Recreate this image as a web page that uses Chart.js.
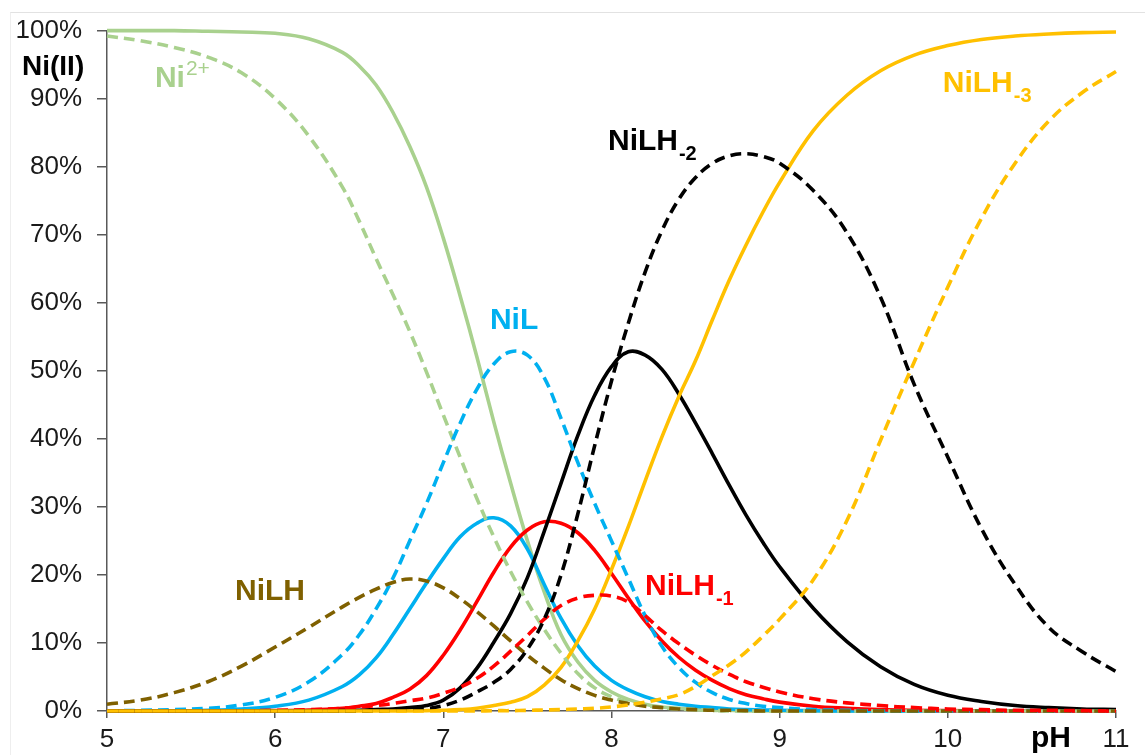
<!DOCTYPE html>
<html>
<head>
<meta charset="utf-8">
<title>Ni(II) speciation vs pH</title>
<script src="https://cdn.jsdelivr.net/npm/chart.js@4.4.1/dist/chart.umd.min.js"></script>
<style>
  html, body { margin: 0; padding: 0; background: #fff; }
  #wrap { position: relative; width: 1145px; height: 755px; overflow: hidden; }
  #frame { position: absolute; left: 10px; top: 12px; width: 1140px; height: 750px;
           border-top: 1px solid #e2e2e2; border-left: 1px solid #eeeeee; }
  canvas { position: absolute; left: 0; top: 0; }
</style>
</head>
<body>
<div id="wrap">
  <div id="frame"></div>
  <canvas id="chart" width="1145" height="755"></canvas>
</div>
<script>
// pH grid shared by every species curve
const pH = [5.0, 5.2, 5.4, 5.6, 5.8, 6.0, 6.2, 6.4,
            6.5, 6.6, 6.7, 6.8, 6.9, 7.0, 7.1, 7.2, 7.3, 7.4,
            7.5, 7.6, 7.7, 7.8, 7.9, 8.0, 8.1, 8.2, 8.3, 8.4,
            8.5, 8.6, 8.7, 8.8, 8.9, 9.0,
            9.2, 9.4, 9.6, 9.8, 10.0, 10.2, 10.4, 10.6, 10.8, 11.0];

// Percent of total Ni(II) in each form — solid set
const ni2Solid = [100, 100, 100, 99.9, 99.8, 99.6, 98.8, 96.8,
                  94.8, 92, 88, 83, 77, 69.5, 61, 52, 42.5, 33.5,
                  25, 17.5, 11.2, 7.2, 4.5, 2.8, 1.7, 1.0, 0.6, 0.4,
                  0.2, 0.1, 0.1, 0, 0, 0,
                  0, 0, 0, 0, 0, 0, 0, 0, 0, 0];
const nilSolid = [0, 0, 0, 0.1, 0.3, 0.7, 1.6, 3.6,
                  5.3, 7.8, 11.2, 15, 18.8, 22.4, 25.6, 27.6, 28.4, 27.2,
                  23.8, 18.6, 13.6, 9.6, 6.6, 4.5, 3.1, 2.1, 1.4, 1.0,
                  0.7, 0.5, 0.3, 0.2, 0.15, 0.1,
                  0.05, 0, 0, 0, 0, 0, 0, 0, 0, 0];
const nilhm1Solid = [0, 0, 0, 0, 0, 0.05, 0.15, 0.4,
                     0.7, 1.1, 2.0, 3.2, 5.2, 8.2, 11.9, 16.1, 20.4, 24.1,
                     26.6, 27.8, 27.6, 26.2, 23.6, 20.2, 16.6, 13.2, 10.3, 7.9,
                     6.0, 4.5, 3.3, 2.4, 1.8, 1.3,
                     0.7, 0.4, 0.2, 0.1, 0.05, 0, 0, 0, 0, 0];
const nilhm2Solid = [0, 0, 0, 0, 0, 0, 0, 0.05,
                     0.1, 0.2, 0.3, 0.5, 0.8, 1.6, 3.4, 6.3, 10.1, 14.3,
                     19.6, 26.4, 33.5, 40.5, 46.4, 50.6, 52.8, 52.3, 50.2, 46.6,
                     42.3, 37.8, 33.2, 28.8, 24.8, 21.2,
                     15.1, 10.2, 6.5, 3.9, 2.3, 1.4, 0.8, 0.5, 0.3, 0.2];
const nilhm3Solid = [0, 0, 0, 0, 0, 0, 0, 0,
                     0, 0, 0, 0, 0.05, 0.1, 0.2, 0.4, 0.8, 1.3,
                     2.1, 3.8, 6.4, 10.3, 15, 20.8, 27.1, 33.8, 40.3, 46.2,
                     51.5, 57.5, 63.3, 68.5, 73.3, 77.7,
                     85.3, 90.5, 94.1, 96.4, 97.8, 98.7, 99.2, 99.5, 99.7, 99.8];

// Percent of total Ni(II) in each form — dashed set
const ni2Dashed = [99.2, 98.5, 97.5, 96.1, 93.8, 90, 84.5, 77,
                   72, 66.5, 61.2, 55.8, 49.8, 43.5, 37.3, 31.2, 25.6, 20.5,
                   16, 12, 8.5, 5.5, 3.4, 2.1, 1.3, 0.8, 0.5, 0.3,
                   0.2, 0.1, 0, 0, 0, 0,
                   0, 0, 0, 0, 0, 0, 0, 0, 0, 0];
const nilDashed = [0, 0.1, 0.2, 0.4, 0.9, 2, 4.3, 8.3,
                   11.2, 15, 19.5, 25, 30.5, 36.5, 42.3, 47.3, 51, 52.8,
                   52.3, 49, 43, 36.5, 30.5, 25, 19.5, 14, 9.5, 6.4,
                   4.2, 2.7, 1.7, 1.1, 0.7, 0.5,
                   0.2, 0.1, 0, 0, 0, 0, 0, 0, 0, 0];
const nilhDashed = [1.0, 1.6, 2.7, 4.3, 6.6, 9.4, 12.3, 15.3,
                    16.7, 17.9, 18.9, 19.4, 19.1, 18.1, 16.5, 14.6, 12.5, 10.3,
                    8.2, 6.3, 4.6, 3.3, 2.3, 1.6, 1.1, 0.7, 0.5, 0.3,
                    0.2, 0.1, 0.1, 0.05, 0, 0,
                    0, 0, 0, 0, 0, 0, 0, 0, 0, 0];
const nilhm1Dashed = [0, 0, 0, 0, 0, 0.1, 0.2, 0.4,
                      0.6, 0.8, 1.1, 1.5, 1.9, 2.6, 3.5, 4.8, 6.6, 8.8,
                      11.1, 13.5, 15.5, 16.6, 17.0, 16.9, 16.0, 14.0, 11.8, 9.9,
                      8.2, 6.7, 5.4, 4.3, 3.5, 2.8,
                      1.8, 1.2, 0.8, 0.5, 0.3, 0.2, 0.1, 0.1, 0.05, 0];
const nilhm2Dashed = [0, 0, 0, 0, 0, 0, 0, 0,
                      0, 0.05, 0.1, 0.2, 0.35, 0.8, 1.6, 2.8, 4.2, 6.1,
                      9.1, 13.5, 20, 29, 39, 48.5, 57, 64.5, 70.6, 75.2,
                      78.4, 80.5, 81.6, 81.9, 81.5, 80.5,
                      76.5, 70.3, 60.8, 48, 37.3, 26.8, 18.6, 12.3, 8.7, 5.8];
const nilhm3Dashed = [0, 0, 0, 0, 0, 0, 0, 0,
                      0, 0, 0, 0, 0, 0, 0, 0, 0.05, 0.05,
                      0.1, 0.15, 0.2, 0.3, 0.4, 0.6, 0.9, 1.3, 1.8, 2.4,
                      3.6, 5.2, 6.8, 8.7, 11, 13.5,
                      19.3, 28, 39.8, 51.3, 62.3, 72.4, 80.5, 86.7, 90.9, 94];

// Axis ticks
const pHTicks = [5, 6, 7, 8, 9, 10, 11];
const pctTicks = [0, 10, 20, 30, 40, 50, 60, 70, 80, 90, 100];

const COLORS = {
  ni2: '#a9d18e', nil: '#00b0f0', nilh: '#7f6000',
  m1: '#ff0000', m2: '#000000', m3: '#ffc000'
};

const series = [
  { label: 'Ni2+',    values: ni2Solid,     color: COLORS.ni2,  dashed: false },
  { label: 'NiL',     values: nilSolid,     color: COLORS.nil,  dashed: false },
  { label: 'NiLH-1',  values: nilhm1Solid,  color: COLORS.m1,   dashed: false },
  { label: 'NiLH-2',  values: nilhm2Solid,  color: COLORS.m2,   dashed: false },
  { label: 'NiLH-3',  values: nilhm3Solid,  color: COLORS.m3,   dashed: false },
  { label: 'Ni2+ ',   values: ni2Dashed,    color: COLORS.ni2,  dashed: true },
  { label: 'NiL ',    values: nilDashed,    color: COLORS.nil,  dashed: true },
  { label: 'NiLH ',   values: nilhDashed,   color: COLORS.nilh, dashed: true },
  { label: 'NiLH-1 ', values: nilhm1Dashed, color: COLORS.m1,   dashed: true },
  { label: 'NiLH-2 ', values: nilhm2Dashed, color: COLORS.m2,   dashed: true },
  { label: 'NiLH-3 ', values: nilhm3Dashed, color: COLORS.m3,   dashed: true }
];

const datasets = series.map((s, i) => ({
  label: s.label,
  data: pH.map((x, k) => ({ x: x, y: s.values[k] })),
  borderColor: s.color,
  backgroundColor: s.color,
  borderWidth: 3.6,
  borderDash: s.dashed ? [11, 6] : [],
  borderCapStyle: 'butt',
  pointRadius: 0,
  pointHoverRadius: 0,
  tension: 0.4,
  fill: false,
  clip: 5,
  order: series.length - i   // later series are drawn on top
}));

const FONT = '"Liberation Sans", Arial, Helvetica, sans-serif';

// Species names written next to their curves, anchored in (pH, %) units
const speciesNames = [
  { text: 'Ni',   extra: '2+', raise: true,  color: COLORS.ni2,  at: [5.285, 91.65] },
  { text: 'NiL',  extra: '',   raise: false, color: COLORS.nil,  at: [7.277, 56.08] },
  { text: 'NiLH', extra: '',   raise: false, color: COLORS.nilh, at: [5.761, 16.25] },
  { text: 'NiLH', extra: '-1', raise: false, color: COLORS.m1,   at: [8.199, 16.98] },
  { text: 'NiLH', extra: '-2', raise: false, color: COLORS.m2,   at: [7.979, 82.43] },
  { text: 'NiLH', extra: '-3', raise: false, color: COLORS.m3,   at: [9.970, 90.92] }
];

const annotate = {
  id: 'annotate',
  afterDatasetsDraw(chart) {
    const { ctx, scales: { x, y } } = chart;
    ctx.save();
    ctx.textBaseline = 'alphabetic';
    ctx.textAlign = 'left';
    speciesNames.forEach(n => {
      const px = x.getPixelForValue(n.at[0]);
      const py = y.getPixelForValue(n.at[1]);
      ctx.fillStyle = n.color;
      ctx.font = 'bold 30px ' + FONT;
      ctx.fillText(n.text, px, py);
      if (n.extra) {
        const w = ctx.measureText(n.text).width;
        if (n.raise) {
          ctx.font = '21px ' + FONT;
          ctx.fillText(n.extra, px + w + 1, py - 12);
        } else {
          ctx.font = 'bold 20px ' + FONT;
          ctx.fillText(n.extra, px + w + 1, py + 10);
        }
      }
    });
    // axis titles
    ctx.fillStyle = '#000';
    ctx.font = 'bold 28px ' + FONT;
    ctx.fillText('Ni(II)', 22, 75);
    ctx.font = 'bold 30px ' + FONT;
    ctx.fillText('pH', 1031, 747);
    ctx.restore();
  }
};

const axisGrey = '#595959';

new Chart(document.getElementById('chart'), {
  type: 'line',
  data: { datasets: datasets },
  plugins: [annotate],
  options: {
    responsive: false,
    animation: false,
    events: [],
    layout: { padding: { top: 28, right: 29, left: 0, bottom: 0 } },
    plugins: { legend: { display: false }, tooltip: { enabled: false }, title: { display: false } },
    scales: {
      x: {
        type: 'linear',
        min: 5, max: 11,
        afterFit(scale) { scale.height = 44; },
        afterBuildTicks(scale) { scale.ticks = pHTicks.map(v => ({ value: v })); },
        ticks: {
          font: { size: 26, family: FONT },
          color: '#1a1a1a',
          padding: 6,
          maxRotation: 0,
          autoSkip: false
        },
        grid: { display: true, drawOnChartArea: false, drawTicks: true, tickLength: 7, color: axisGrey, lineWidth: 1.5 },
        border: { display: true, color: axisGrey, width: 1.5 }
      },
      y: {
        type: 'linear',
        min: 0, max: 100,
        afterFit(scale) { scale.width = 107; },
        afterBuildTicks(scale) { scale.ticks = pctTicks.map(v => ({ value: v })); },
        ticks: {
          font: { size: 26, family: FONT },
          color: '#1a1a1a',
          padding: 15,
          autoSkip: false,
          callback: v => v + '%'
        },
        grid: { display: true, drawOnChartArea: false, drawTicks: true, tickLength: 10, color: axisGrey, lineWidth: 1.5 },
        border: { display: true, color: axisGrey, width: 1.5 }
      }
    }
  }
});
</script>
</body>
</html>
